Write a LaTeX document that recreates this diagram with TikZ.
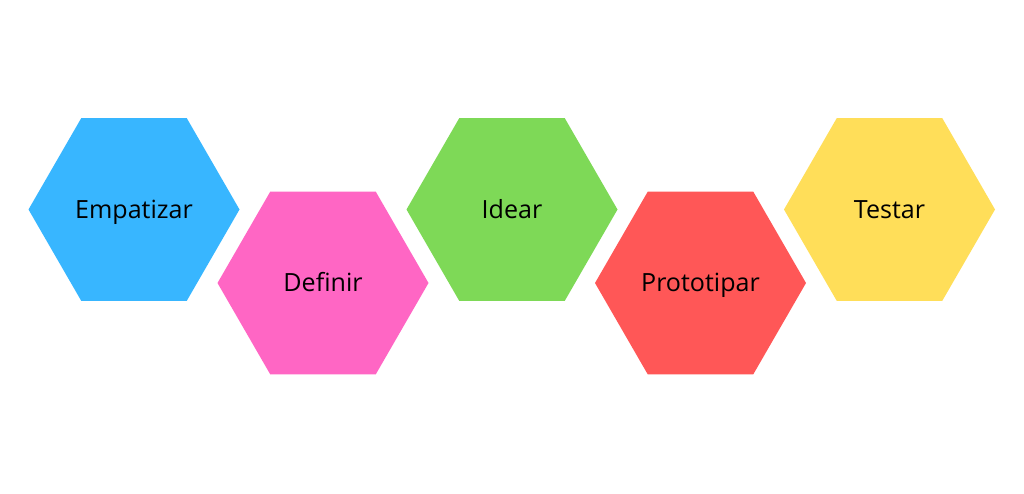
\documentclass[tikz,border=0pt]{standalone}
\usepackage{fontspec}
\setmainfont{Open Sans}
\usepackage{xcolor}
\usepackage{tikz}
\usetikzlibrary{shapes.geometric,positioning}

\definecolor{hexblue}{HTML}{38B6FF}
\definecolor{hexpink}{HTML}{FF66C4}
\definecolor{hexgreen}{HTML}{7ED957}
\definecolor{hexred}{HTML}{FF5757}
\definecolor{hexyellow}{HTML}{FFDE59}

\begin{document}
\begin{tikzpicture}[x=0.75pt,y=-0.75pt,
    hexa/.style={regular polygon, regular polygon sides=6, minimum size=158.25pt,
    inner sep=0pt, draw=none, text=black, font=\fontsize{18.8}{22}\selectfont,
    text height=13.4pt, text depth=0pt}]

    \useasboundingbox[fill=white] (0,0) rectangle (1024,493);

% the five stages

    \foreach \name/\x/\y/\col [count=\n] in {Empatizar/134/209.5/hexblue,
    Definir/323/283/hexpink, Idear/512/209.5/hexgreen,
    Prototipar/700.5/283/hexred, Testar/889.5/209.5/hexyellow}{
       \node[hexa, fill=\col] (h\n) at (\x,\y) {\name};
    }

\end{tikzpicture}
\end{document}
